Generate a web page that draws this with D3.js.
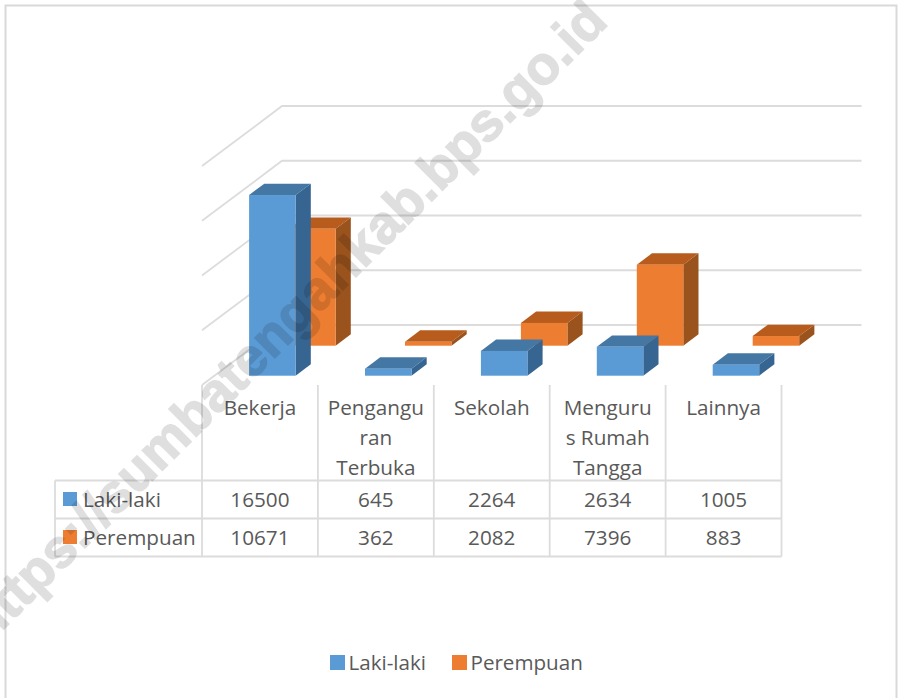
<!DOCTYPE html>
<html lang="id">
<head>
<meta charset="utf-8">
<title>Kegiatan menurut jenis kelamin</title>
<script src="https://d3js.org/d3.v7.min.js"></script>
<style>
body { margin: 0; background: #fff; }
text { font-family: "Open Sans", sans-serif; fill: #595959; }
</style>
</head>
<body>
<svg width="902" height="698"></svg>
<script>
var categories = ['Bekerja', 'Pengangguran Terbuka', 'Sekolah', 'Mengurus Rumah Tangga', 'Lainnya']
// wrapped the way the data table wraps them
var categoryLines = [['Bekerja'], ['Pengangu', 'ran', 'Terbuka'], ['Sekolah'], ['Menguru', 's Rumah', 'Tangga'], ['Lainnya']]
var series = ['Laki-laki', 'Perempuan']
var lakiLaki = [16500, 645, 2264, 2634, 1005]
var perempuan = [10671, 362, 2082, 7396, 883]
var gridTicks = [0, 5000, 10000, 15000, 20000]
var seriesValues = [lakiLaki, perempuan]

var colors = {
  'Laki-laki': { front: '#5b9bd5', top: '#4577a5', side: '#376591' },
  'Perempuan': { front: '#ed7d31', top: '#b85c1e', side: '#9a531c' }
}
var gridColor = '#dcdcdc'

var svg = d3.select('svg')

// frame of the chart, has no bottom edge
svg.append('path')
  .attr('d', 'M5.5,698V5.5H896.5V698')
  .attr('fill', 'none')
  .attr('stroke', '#d9d9d9')
  .attr('stroke-width', 2)

/////// SCALES ///////
var x = d3.scaleBand().domain(categories).range([202, 781.5])
var y = d3.scaleLinear().domain([0, 20000]).range([385, 166])
var z = d3.scaleBand().domain(series).range([0, 1]).paddingInner(0.62).paddingOuter(0.31)

// oblique projection: depth d (0..1) moves a point right and up
var depthX = 80
var depthY = 60
function px(xv, d) { return xv + d * depthX }
function py(v, d) { return y(v) - d * depthY }

var barWidth = 46.5
var barInset = (x.bandwidth() - barWidth) / 2

/////// GRID ///////
var grid = svg.append('g')
  .attr('fill', 'none')
  .attr('stroke', gridColor)
  .attr('stroke-width', 1.8)

grid.selectAll('path')
  .data(gridTicks)
  .enter()
  .append('path')
  .attr('d', function (t) {
    return 'M' + px(x.range()[0], 0) + ',' + py(t, 0) +
      'L' + px(x.range()[0], 1) + ',' + py(t, 1) +
      'L' + px(x.range()[1], 1) + ',' + py(t, 1)
  })

/////// BARS ///////
// back series first so the front one covers it
series.slice().reverse().forEach(function (s) {
  var si = series.indexOf(s)
  var d0 = z(s)
  var d1 = d0 + z.bandwidth()
  var g = svg.append('g')
  var bars = g.selectAll('g')
    .data(categories.map(function (c, i) { return { cat: c, value: seriesValues[si][i] } }))
    .enter()
    .append('g')

  function left(d) { return x(d.cat) + barInset }

  bars.append('path')
    .attr('fill', colors[s].top)
    .attr('d', function (d) {
      var l = left(d), r = l + barWidth
      return 'M' + px(l, d0) + ',' + py(d.value, d0) +
        'L' + px(l, d1) + ',' + py(d.value, d1) +
        'L' + px(r, d1) + ',' + py(d.value, d1) +
        'L' + px(r, d0) + ',' + py(d.value, d0) + 'Z'
    })

  bars.append('path')
    .attr('fill', colors[s].side)
    .attr('d', function (d) {
      var r = left(d) + barWidth
      return 'M' + px(r, d0) + ',' + py(d.value, d0) +
        'L' + px(r, d1) + ',' + py(d.value, d1) +
        'L' + px(r, d1) + ',' + py(0, d1) +
        'L' + px(r, d0) + ',' + py(0, d0) + 'Z'
    })

  bars.append('rect')
    .attr('fill', colors[s].front)
    .attr('x', function (d) { return px(left(d), d0) })
    .attr('y', function (d) { return py(d.value, d0) })
    .attr('width', barWidth)
    .attr('height', function (d) { return y(0) - y(d.value) })
})

/////// DATA TABLE ///////
var tableTop = 385
var rowTops = [480.5, 518.5, 556.5]
var tableLeft = 55
var table = svg.append('g')
  .attr('stroke', gridColor)
  .attr('stroke-width', 1.8)

var colEdges = categories.map(function (c) { return x(c) }).concat(x.range()[1])
table.selectAll('line.col')
  .data(colEdges)
  .enter()
  .append('line')
  .attr('x1', function (d) { return d })
  .attr('x2', function (d) { return d })
  .attr('y1', tableTop)
  .attr('y2', rowTops[2])

table.append('line')
  .attr('x1', tableLeft).attr('x2', tableLeft)
  .attr('y1', rowTops[0]).attr('y2', rowTops[2])

table.selectAll('line.row')
  .data(rowTops)
  .enter()
  .append('line')
  .attr('x1', tableLeft)
  .attr('x2', x.range()[1])
  .attr('y1', function (d) { return d })
  .attr('y2', function (d) { return d })

var labels = svg.append('g').attr('text-anchor', 'middle').attr('font-size', 20.7)

categories.forEach(function (c, i) {
  labels.selectAll(null)
    .data(categoryLines[i])
    .enter()
    .append('text')
    .attr('x', x(c) + x.bandwidth() / 2)
    .attr('y', function (d, k) { return 415 + k * 30 })
    .text(function (d) { return d })

  seriesValues.forEach(function (vals, si) {
    labels.append('text')
      .attr('x', x(c) + x.bandwidth() / 2)
      .attr('y', rowTops[si] + 26)
      .text(vals[i])
  })
})

series.forEach(function (s, si) {
  svg.append('rect')
    .attr('x', 63)
    .attr('y', rowTops[si] + 11.5)
    .attr('width', 14)
    .attr('height', 14)
    .attr('fill', colors[s].front)
  svg.append('text')
    .attr('x', 83)
    .attr('y', rowTops[si] + 26)
    .attr('font-size', 20.7)
    .text(s)
})

/////// LEGEND ///////
var legendX = { 'Laki-laki': 330, 'Perempuan': 452 }
series.forEach(function (s) {
  svg.append('rect')
    .attr('x', legendX[s])
    .attr('y', 655)
    .attr('width', 15)
    .attr('height', 15)
    .attr('fill', colors[s].front)
  svg.append('text')
    .attr('x', legendX[s] + 18.5)
    .attr('y', 670)
    .attr('font-size', 20.6)
    .text(s)
})

/////// WATERMARK ///////
// heavier than plain bold in the picture, so a thin stroke on top
svg.append('text')
  .attr('transform', 'translate(-12,645) rotate(-45)')
  .style('font-family', '"Liberation Sans", sans-serif')
  .style('font-weight', 'bold')
  .style('font-size', '54px')
  .style('fill', '#000')
  .style('stroke', '#000')
  .style('stroke-width', 1.4)
  .style('opacity', 0.12)
  .text('https://sumbatengahkab.bps.go.id')
</script>
</body>
</html>
